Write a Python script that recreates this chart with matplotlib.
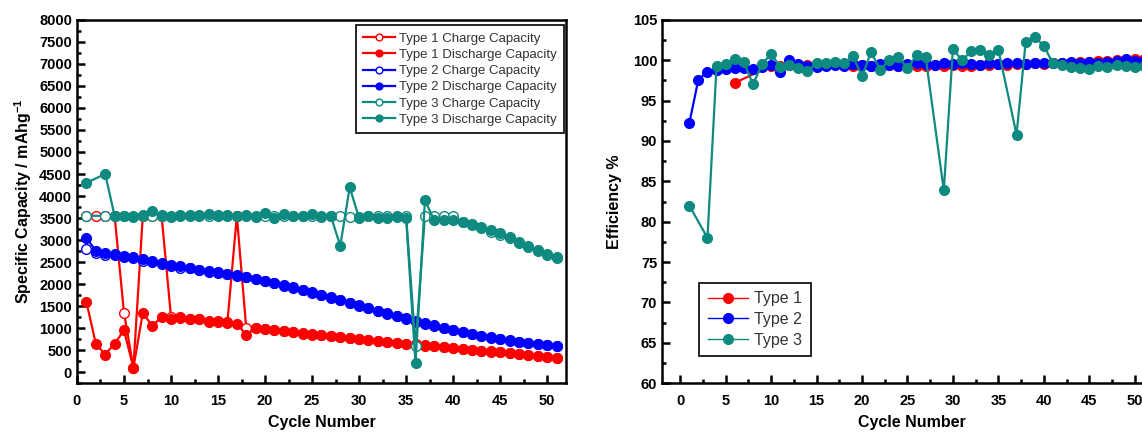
import matplotlib
matplotlib.use('Agg')
import matplotlib.pyplot as plt
from matplotlib.ticker import MultipleLocator

plt.rcParams['font.family'] = ['Liberation Sans', 'DejaVu Sans']

# cycle numbers
cycles = list(range(1, 52))
cycles3 = [1] + list(range(3, 52))   # type 3 has no cycle 2 point

# specific capacity (mAh/g)
t1_charge = [3550, 3550, 3550, 3550, 1350, 100, 3550, 3550, 3550, 1250,
             1230, 1210, 1200, 1170, 1160, 1140, 3550, 1000, 1000, 985,
             955, 935, 905, 875, 855, 835, 815, 795, 775, 755,
             725, 705, 685, 665, 645, 625, 605, 585, 565, 545,
             525, 505, 487, 467, 447, 428, 408, 388, 368, 349, 329]
t1_discharge = [1600, 650, 400, 650, 950, 100, 1350, 1050, 1250, 1200,
                1250, 1200, 1200, 1150, 1150, 1120, 1100, 850, 1000, 990,
                960, 940, 910, 880, 860, 840, 820, 800, 780, 760,
                730, 710, 690, 670, 650, 630, 610, 590, 570, 550,
                530, 510, 490, 470, 450, 430, 410, 390, 370, 350, 330]
t2_charge = [2800, 2700, 2670, 2650, 2615, 2585, 2535, 2505, 2455, 2415,
             2370, 2365, 2315, 2285, 2255, 2225, 2185, 2155, 2105, 2065,
             2015, 1965, 1915, 1855, 1805, 1745, 1690, 1630, 1570, 1510,
             1450, 1390, 1330, 1270, 1210, 1150, 1100, 1050, 1000, 950,
             905, 865, 825, 785, 745, 715, 685, 655, 635, 617, 598]
t2_discharge = [3050, 2760, 2700, 2680, 2640, 2610, 2560, 2530, 2480, 2430,
                2400, 2370, 2330, 2300, 2270, 2240, 2200, 2170, 2120, 2080,
                2030, 1980, 1930, 1870, 1820, 1760, 1700, 1640, 1580, 1520,
                1460, 1400, 1340, 1280, 1220, 1160, 1110, 1060, 1010, 960,
                910, 870, 830, 790, 750, 720, 690, 660, 640, 620, 600]
t3_charge = [3550, 3550, 3550, 3550, 3550, 3550, 3550, 3550, 3550, 3550,
             3550, 3550, 3550, 3550, 3550, 3550, 3550, 3550, 3550, 3550,
             3550, 3550, 3550, 3550, 3550, 3550, 3550, 3530, 3530, 3550,
             3550, 3550, 3550, 3550, 600, 3550, 3550, 3550, 3550, 3410,
             3340, 3280, 3190, 3120, 3040, 2940, 2840, 2750, 2670, 2590]
t3_discharge = [4300, 4500, 3550, 3540, 3520, 3560, 3650, 3560, 3520, 3580,
                3560, 3580, 3600, 3560, 3560, 3550, 3560, 3530, 3620, 3510,
                3590, 3550, 3540, 3590, 3530, 3540, 2870, 4200, 3500, 3550,
                3510, 3500, 3530, 3500, 200, 3900, 3450, 3450, 3450, 3420,
                3360, 3300, 3220, 3150, 3060, 2960, 2860, 2770, 2690, 2610]

# coulombic efficiency (%)
eff1_cycles = [6] + list(range(10, 17)) + list(range(19, 52))
eff1 = [97.2, 99.3, 99.3, 99.4, 99.3, 99.4, 99.3, 99.4,
        99.3, 99.4, 99.3, 99.3, 99.4, 99.3, 99.4, 99.3, 99.3, 99.4,
        99.3, 99.4, 99.3, 99.3, 99.4, 99.4, 99.5, 99.4, 99.5, 99.5,
        99.6, 99.5, 99.6, 99.7, 99.7, 99.8, 99.8, 99.9, 99.9, 100.0,
        100.0, 100.1, 100.2]
eff2 = [92.2, 97.6, 98.6, 98.8, 98.9, 99.0, 99.0, 98.9, 99.2, 99.4,
        98.6, 100.0, 99.5, 99.3, 99.2, 99.3, 99.4, 99.3, 99.5, 99.4,
        99.3, 99.5, 99.4, 99.3, 99.5, 99.6, 99.5, 99.4, 99.6, 99.5,
        99.6, 99.5, 99.4, 99.6, 99.5, 99.6, 99.7, 99.5, 99.6, 99.7,
        99.6, 99.7, 99.8, 99.7, 99.8, 99.7, 99.8, 99.9, 100.1, 99.9, 99.9]
eff3_cycles = [1] + list(range(3, 28)) + list(range(29, 36)) + list(range(37, 52))
eff3 = [82.0, 78.0, 99.3, 99.5, 100.2, 99.8, 97.0, 99.5, 100.8, 99.2,
        99.4, 99.0, 98.7, 99.6, 99.6, 99.8, 99.6, 100.5, 98.0, 101.0,
        98.8, 100.0, 100.4, 99.0, 100.6, 100.4,
        83.9, 101.4, 100.0, 101.1, 101.3, 100.6, 101.3,
        90.8, 102.2, 102.9, 101.8, 99.6, 99.4, 99.2, 99.0, 98.9, 99.3,
        99.2, 99.4, 99.3, 99.2, 99.3]

red = '#ff0000'
blue = '#0000ff'
teal = '#0e8a80'

fig = plt.figure(figsize=(11.42, 4.32), dpi=100)
ax1 = fig.add_axes([0.0674, 0.113, 0.4282, 0.841])
ax2 = fig.add_axes([0.5797, 0.113, 0.4378, 0.841])

ms = 7
lw = 1.6

# left panel: capacity
ax1.plot(cycles, t1_charge, '-o', color=red, mfc='white', mec=red, ms=ms, lw=lw, label='Type 1 Charge Capacity')
ax1.plot(cycles, t1_discharge, '-o', color=red, ms=ms, lw=lw, label='Type 1 Discharge Capacity')
ax1.plot(cycles, t2_charge, '-o', color=blue, mfc='white', mec=blue, ms=ms, lw=lw, label='Type 2 Charge Capacity')
ax1.plot(cycles, t2_discharge, '-o', color=blue, ms=ms, lw=lw, label='Type 2 Discharge Capacity')
ax1.plot(cycles3, t3_charge, '-o', color=teal, mfc='white', mec=teal, ms=ms, lw=lw, label='Type 3 Charge Capacity')
ax1.plot(cycles3, t3_discharge, '-o', color=teal, ms=ms, lw=lw, label='Type 3 Discharge Capacity')

ax1.set_xlim(0, 52)
ax1.set_ylim(-250, 8000)
ax1.xaxis.set_major_locator(MultipleLocator(5))
ax1.xaxis.set_minor_locator(MultipleLocator(2.5))
ax1.yaxis.set_major_locator(MultipleLocator(500))
ax1.yaxis.set_minor_locator(MultipleLocator(250))
ax1.set_xlabel('Cycle Number', fontsize=11.5, fontweight='bold', labelpad=5)
ax1.set_ylabel('Specific Capacity / mAhg$^{\\mathregular{-1}}$', fontsize=11.5, fontweight='bold', labelpad=4)

leg1 = ax1.legend(loc='upper right', bbox_to_anchor=(0.995, 0.985), borderaxespad=0,
                  fontsize=9.5, fancybox=False, framealpha=1, edgecolor='black',
                  handlelength=2.4, labelspacing=0.3, markerscale=0.7,
                  borderpad=0.55, handletextpad=0.3)
leg1.get_frame().set_linewidth(1.2)
for t in leg1.get_texts():
    t.set_color('#333333')

# right panel: efficiency
ax2.plot(eff1_cycles, eff1, '-o', color=red, ms=ms, lw=lw, label='Type 1')
ax2.plot(cycles, eff2, '-o', color=blue, ms=ms, lw=lw, label='Type 2')
ax2.plot(eff3_cycles, eff3, '-o', color=teal, ms=ms, lw=lw, label='Type 3')

ax2.set_xlim(-2, 53)
ax2.set_ylim(60, 105)
ax2.xaxis.set_major_locator(MultipleLocator(5))
ax2.xaxis.set_minor_locator(MultipleLocator(2.5))
ax2.yaxis.set_major_locator(MultipleLocator(5))
ax2.yaxis.set_minor_locator(MultipleLocator(2.5))
ax2.set_xlabel('Cycle Number', fontsize=11.5, fontweight='bold', labelpad=5)
ax2.set_ylabel('Efficiency %', fontsize=11.5, fontweight='bold', labelpad=8)

leg2 = ax2.legend(loc='lower left', bbox_to_anchor=(0.074, 0.074), borderaxespad=0,
                  fontsize=11.5, fancybox=False, framealpha=1, edgecolor='black',
                  handlelength=2.5, labelspacing=0.35, borderpad=0.55,
                  handletextpad=0.4)
leg2.get_frame().set_linewidth(1.2)
for line in leg2.get_lines():
    line.set_linewidth(1.0)
for t in leg2.get_texts():
    t.set_color('#333333')

for ax in (ax1, ax2):
    for sp in ax.spines.values():
        sp.set_linewidth(1.8)
    ax.tick_params(which='major', direction='in', length=6, width=1.8, labelsize=10.5)
    ax.tick_params(which='minor', direction='in', length=3, width=1.8)
    ax.tick_params(axis='x', pad=8)
    for lab in ax.get_xticklabels() + ax.get_yticklabels():
        lab.set_fontweight('bold')

fig.savefig('out.png', dpi=100)
